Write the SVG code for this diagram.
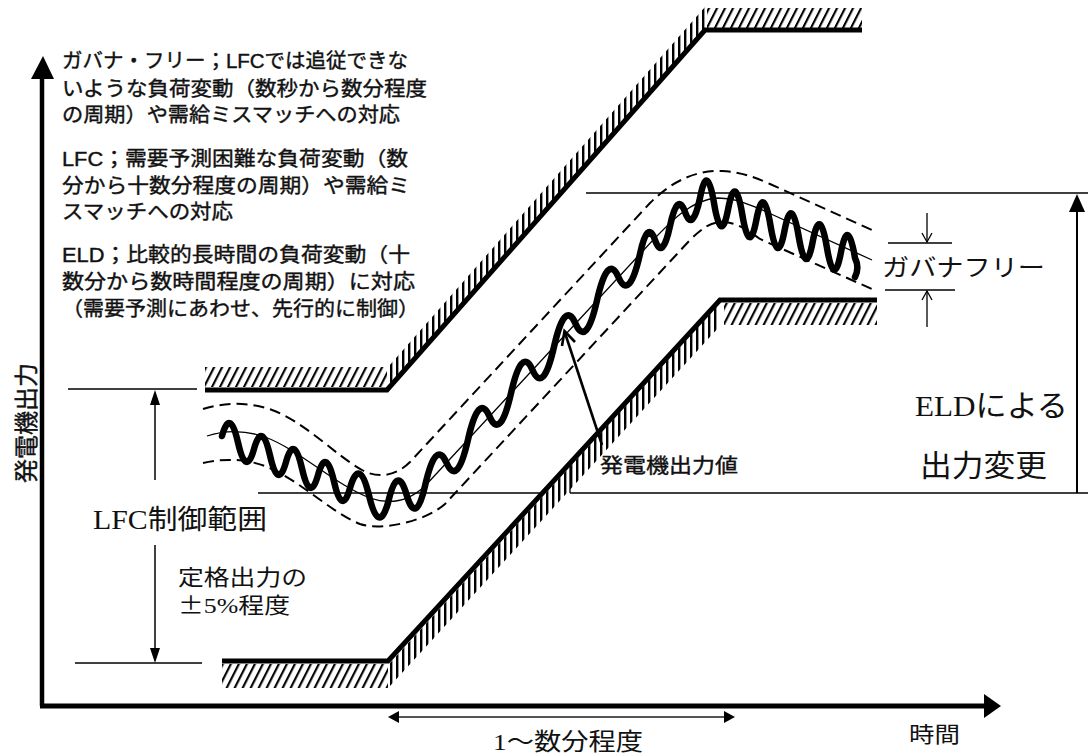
<svg xmlns="http://www.w3.org/2000/svg" width="1092" height="753" viewBox="0 0 1092 753">
<style>
.thin{stroke:#000;stroke-width:1.3;fill:none}
.band{stroke:#000;stroke-width:5;fill:none;stroke-linejoin:miter}
.dash{stroke:#000;stroke-width:2;fill:none;stroke-dasharray:11 6}
.wave{stroke:#000;stroke-width:6.5;fill:none;stroke-linecap:round;stroke-linejoin:round}
.blk{fill:#000}
.jp{font-family:"Liberation Sans","Noto Sans CJK JP",sans-serif;fill:#111}
.jpb{font-family:"Liberation Sans","Noto Sans CJK JP",sans-serif;fill:#111;stroke:#111;stroke-width:0.4}
.sr{font-family:"Liberation Serif","Noto Sans CJK JP",serif;fill:#111}
.cjk{font-family:"Noto Sans CJK JP",sans-serif}
</style>
<defs>
<pattern id="hv" patternUnits="userSpaceOnUse" width="6" height="10"><rect x="0" y="0" width="2.4" height="10" fill="#000"/></pattern>
<pattern id="hs" patternUnits="userSpaceOnUse" width="8" height="10" patternTransform="skewX(-27)"><rect x="0" y="0" width="2.4" height="10" fill="#000"/></pattern>
</defs>
<rect width="1092" height="753" fill="#fff"/>

<g id="axes">
<line x1="42" y1="706" x2="42" y2="74" stroke="#000" stroke-width="4.5"/>
<polygon class="blk" points="43,56 31,79 54,79"/>
<line x1="40" y1="706" x2="986" y2="706" stroke="#000" stroke-width="5"/>
<polygon class="blk" points="1001,706 984,694 984,718"/>
<text class="jpb" font-size="24" transform="translate(35,423) rotate(-90)" text-anchor="middle">発電機出力</text>
<text class="jp" x="909" y="742" font-size="22" textLength="51" lengthAdjust="spacingAndGlyphs">時間</text>
</g>

<g id="upper-band">
<polygon points="205,367 387,367 387,387 205,387" fill="url(#hs)"/>
<polygon points="389,387 705,28 705,7 389,366" fill="url(#hv)"/>
<polygon points="707,8 862,8 862,28 707,28" fill="url(#hs)"/>
<polyline class="band" points="205,390 387,390 705,30 862,30"/>
</g>

<g id="lower-band">
<polygon points="222,664 388,664 388,688 222,688" fill="url(#hs)"/>
<polygon points="390,663 720,303 720,326 390,686" fill="url(#hv)"/>
<polygon points="724,303 877,303 877,325 724,325" fill="url(#hs)"/>
<polyline class="band" points="222,661 388,661 720,300 877,300"/>
</g>

<g id="guides">
<line class="thin" x1="68" y1="389" x2="197" y2="389"/>
<line class="thin" x1="75" y1="663" x2="202" y2="663"/>
<line class="thin" x1="258" y1="493" x2="541" y2="493"/>
<line class="thin" x1="570" y1="493" x2="1088" y2="493"/>
<line class="thin" x1="570" y1="463" x2="570" y2="493"/>
<line class="thin" x1="586" y1="193" x2="1088" y2="193"/>
<line class="thin" x1="888" y1="243" x2="952" y2="243"/>
<line class="thin" x1="885" y1="290" x2="955" y2="290"/>
</g>

<g id="trajectory">
<path class="thin" d="M207,436 C225,430 245,430 265,437 C300,450 335,485 370,498 C390,505 408,502 425,486 L640,254 C668,224 690,199 718,198 C735,198 745,203 760,209 L872,260"/>
<path class="dash" d="M203,409 C225,402 250,402 272,410 C305,422 335,455 362,470 C378,479 396,476 410,462 L650,203 C675,178 700,170 722,171 C740,172 752,176 770,184 L872,230"/>
<path class="dash" d="M203,463 C225,458 245,459 265,466 C300,480 330,512 360,524 C380,531 425,522 445,504 L690,240 C703,227 712,222 722,222 C735,222 745,228 760,239 L874,290"/>
<path class="wave" d="M222,436 q8,-28.75 16,6.5 t16,6.5 t16,6.5 t16,6.5 t16,6.5 t16,6.5 t16,6.5 t16,6.5 q9.5,-32.25 19,7.5 t19,7.5 q9.25,-40.25 18.5,-8.5 t18.5,-8.5 q10.75,-47.6 21.5,-23.2 t21.5,-23.2 t21.5,-23.2 t21.5,-23.2 t21.5,-23.2 t21.5,-23.2 t21.5,-23.2 t21.5,-23.2 t21.5,-23.2 t21.5,-23.2 q7.5,-35 15,-14 t15,-14 t15,-14 t15,-14 q7.045,-37.275 14.09,5.45 t14.09,5.45 t14.09,5.45 t14.09,5.45 t14.09,5.45 t14.09,5.45 t14.09,5.45 t14.09,5.45 t14.09,5.45 t14.09,5.45 t14.09,5.45 c3,6 3,13 0,19"/>
</g>

<g id="connectors">
<line x1="155" y1="402" x2="155" y2="480" stroke="#000" stroke-width="1.5"/>
<polygon class="blk" points="155,390 150,405 160,405"/>
<line x1="155" y1="545" x2="155" y2="650" stroke="#000" stroke-width="1.5"/>
<polygon class="blk" points="155,663 150,648 160,648"/>
<line x1="1077" y1="493" x2="1077" y2="210" stroke="#000" stroke-width="2"/>
<polygon class="blk" points="1077,194 1069,212 1085,212"/>
<line x1="398" y1="717" x2="725" y2="717" stroke="#555" stroke-width="2"/>
<polygon class="blk" points="388,717 399,711 399,723"/>
<polygon class="blk" points="735,717 724,711 724,723"/>
<line x1="602" y1="445" x2="565" y2="333" stroke="#000" stroke-width="2.6"/>
<polyline points="562,346 564.5,331 575,342" fill="none" stroke="#000" stroke-width="2.6"/>
<line class="thin" x1="927" y1="213" x2="927" y2="242"/>
<polyline class="thin" points="922,233 927,242 932,233"/>
<line class="thin" x1="927" y1="291" x2="927" y2="327"/>
<polyline class="thin" points="922,300 927,291 932,300"/>
</g>

<g id="description">
<text class="jpb" font-size="20" x="62" y="68" textLength="346" lengthAdjust="spacingAndGlyphs">ガバナ・フリー；LFCでは追従できな</text>
<text class="jpb" font-size="20" x="62" y="96" textLength="365" lengthAdjust="spacingAndGlyphs">いような負荷変動（数秒から数分程度</text>
<text class="jpb" font-size="20" x="62" y="122" textLength="338" lengthAdjust="spacingAndGlyphs">の周期）や需給ミスマッチへの対応</text>
<text class="jpb" font-size="20" x="62" y="166" textLength="346" lengthAdjust="spacingAndGlyphs">LFC；需要予測困難な負荷変動（数</text>
<text class="jpb" font-size="20" x="62" y="193" textLength="348" lengthAdjust="spacingAndGlyphs">分から十数分程度の周期）や需給ミ</text>
<text class="jpb" font-size="20" x="62" y="219" textLength="171" lengthAdjust="spacingAndGlyphs">スマッチへの対応</text>
<text class="jpb" font-size="20" x="62" y="262" textLength="348" lengthAdjust="spacingAndGlyphs">ELD；比較的長時間の負荷変動（十</text>
<text class="jpb" font-size="20" x="62" y="289" textLength="353" lengthAdjust="spacingAndGlyphs">数分から数時間程度の周期）に対応</text>
<text class="jpb" font-size="20" x="62" y="316" textLength="357" lengthAdjust="spacingAndGlyphs">（需要予測にあわせ、先行的に制御）</text>
</g>

<g id="labels">
<text class="sr" font-size="27" x="93" y="529" textLength="174" lengthAdjust="spacingAndGlyphs">LFC制御範囲</text>
<text class="jp" font-size="22" x="178" y="585" textLength="129" lengthAdjust="spacingAndGlyphs">定格出力の</text>
<text class="sr" font-size="22" x="178" y="613" textLength="112" lengthAdjust="spacingAndGlyphs"><tspan class="cjk">±</tspan>5%程度</text>
<text class="sr" font-size="30" x="915" y="416" textLength="153" lengthAdjust="spacingAndGlyphs">ELDによる</text>
<text class="jp" font-size="30" x="920" y="476" textLength="127" lengthAdjust="spacingAndGlyphs">出力変更</text>
<text class="jp" font-size="24" x="882" y="276" textLength="163" lengthAdjust="spacingAndGlyphs">ガバナフリー</text>
<text class="jpb" font-size="20" x="600" y="473" textLength="138" lengthAdjust="spacingAndGlyphs">発電機出力値</text>
<text class="sr" font-size="24" x="493" y="750" textLength="150" lengthAdjust="spacingAndGlyphs">1～数分程度</text>
</g>
</svg>
